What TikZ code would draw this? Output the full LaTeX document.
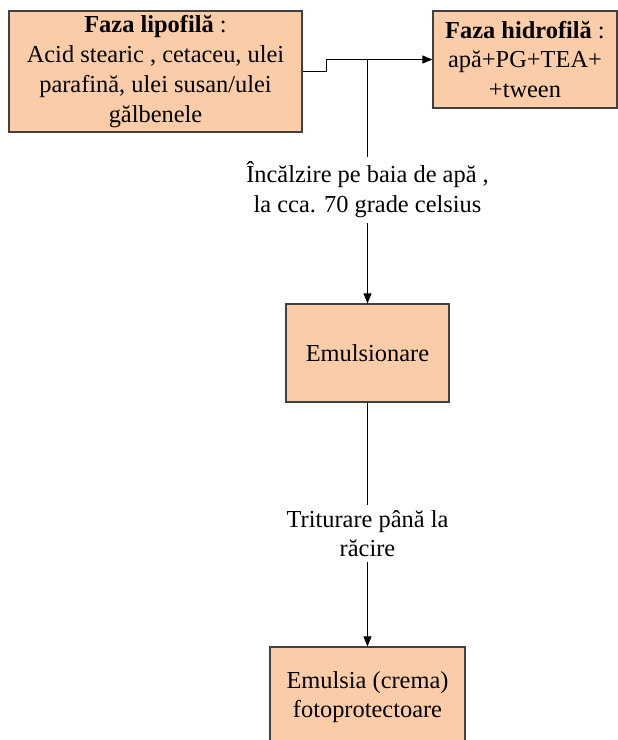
\documentclass[tikz,border=0pt]{standalone}
\usepackage{fontspec}
\setmainfont{LiberationSerif}[Extension=.ttf,UprightFont=*-Regular,BoldFont=*-Bold,ItalicFont=*-Italic,BoldItalicFont=*-BoldItalic]
\usetikzlibrary{arrows.meta}
\definecolor{peach}{RGB}{250,205,168}
\begin{document}
\begin{tikzpicture}[x=0.75pt,y=-0.75pt,
  txt/.style={align=center,font=\fontsize{18.3}{22.3}\selectfont},
  box/.style={txt,draw=black!75,fill=peach,line width=0.9pt,inner sep=0pt},
  lbl/.style={txt,inner sep=3.5pt},
  >={Triangle[length=7.5pt,width=6pt]}]
 \clip (0,0) rectangle (618,740);
 \node[box,minimum width=219.75pt,minimum height=90.75pt] (lip) at (155.5,71.5)
  {\textbf{Faza lipofilă} :\\Acid stearic , cetaceu, ulei\\parafină, ulei susan/ulei\\gălbenele};
 \node[box,minimum width=138pt,minimum height=72.75pt] (hid) at (525,59.5)
  {\textbf{Faza hidrofilă} :\\apă+PG+TEA+\\+tween};
 \node[box,minimum width=122.25pt,minimum height=73.5pt] (emul) at (367.5,353) {Emulsionare};
 \node[box,minimum width=146.25pt,minimum height=75pt] (crema) at (367.5,697)
  {Emulsia (crema)\\fotoprotectoare};
 \node[lbl] (incalz) at (367.5,190) {Încălzire pe baia de apă ,\\la cca. 70 grade celsius};
 \node[lbl] (tritur) at (367.5,533.5) {Triturare până la\\răcire};
 \coordinate (j) at (emul.north |- hid.west);
 % lipofila -> hidrofila, then down
 \draw[line width=0.75pt,->] (lip.east) -- ++(24,0) |- (hid.west);
 \draw[line width=0.75pt] (j) -- (incalz);
 \draw[line width=0.75pt,->] (incalz) -- (emul);
 \draw[line width=0.75pt] (emul) -- (tritur);
 \draw[line width=0.75pt,->] (tritur) -- (crema);
\end{tikzpicture}
\end{document}
